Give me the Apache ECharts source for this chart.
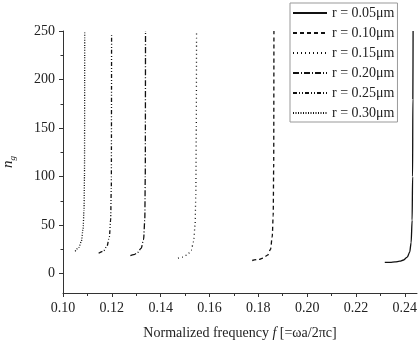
<!DOCTYPE html>
<html>
<head>
<meta charset="utf-8">
<script src="https://cdn.jsdelivr.net/npm/echarts@6/dist/echarts.min.js"></script>
<style>
  html, body { margin: 0; padding: 0; background: #fff; }
  #chart { width: 420px; height: 343px; }
</style>
</head>
<body>
<div id="chart"></div>
<script>
// 图例名称 (孔半径)
var radii = ['r = 0.05μm', 'r = 0.10μm', 'r = 0.15μm', 'r = 0.20μm', 'r = 0.25μm', 'r = 0.30μm'];

// 每条曲线: 归一化频率 f 与群折射率 ng
var f005 = [0.2318, 0.234, 0.236, 0.238, 0.2395, 0.241, 0.242, 0.2426, 0.243, 0.2432, 0.2433, 0.2434];
var ng005 = [11.5, 11.6, 12, 12.8, 14, 17, 22, 32, 55, 100, 180, 250];

var f010 = [0.1775, 0.18, 0.182, 0.1838, 0.185, 0.1857, 0.1861, 0.1863, 0.1864];
var ng010 = [13.5, 14.5, 16, 19, 25, 38, 60, 110, 250];

var f015 = [0.1471, 0.149, 0.151, 0.1525, 0.1535, 0.1541, 0.1544, 0.1546, 0.1547];
var ng015 = [16, 17, 19.5, 24, 33, 50, 80, 150, 248];

var f020 = [0.1276, 0.129, 0.1305, 0.132, 0.133, 0.1335, 0.1337, 0.1338];
var ng020 = [18.5, 19.5, 21.5, 26, 35, 55, 100, 250];

var f025 = [0.1146, 0.1165, 0.118, 0.119, 0.1195, 0.1198, 0.1199];
var ng025 = [21, 23, 28, 38, 55, 90, 248];

var f030 = [0.105, 0.1065, 0.1075, 0.1082, 0.1086, 0.1088, 0.1089];
var ng030 = [23, 27, 33, 45, 65, 100, 250];

// 坐标轴刻度
var xMin = 0.10, xMax = 0.24, xStep = 0.02, xEnd = 0.245;
var yMin = 0, yMax = 250, yStep = 50, yBottom = -20;

var curves = [[f005, ng005], [f010, ng010], [f015, ng015], [f020, ng020], [f025, ng025], [f030, ng030]];
var dashes = ['solid', [4, 3], [1, 3], [6, 2, 1, 2], [4, 2, 1, 2, 1, 2], [1, 1.5]];

var serif = 'Liberation Serif';
var chart = echarts.init(document.getElementById('chart'));

var series = curves.map(function (c, i) {
    return {
        name: radii[i],
        type: 'line',
        xAxisIndex: 0,
        yAxisIndex: 0,
        symbol: 'none',
        smooth: 0.3,
        smoothMonotone: 'x',
        animation: false,
        lineStyle: { color: '#111', width: 1.3, type: dashes[i] },
        itemStyle: { color: '#111' },
        data: c[0].map(function (f, k) { return [f, c[1][k]]; })
    };
});

var option = {
    backgroundColor: '#fff',
    animation: false,
    grid: [
        // 数据区域 (y 轴延伸到 -20)
        { left: 63, top: 31, right: 3, bottom: 50, outerBoundsMode: 'none' },
        // 刻度区域 (0..250, 0.10..0.24)
        { left: 63, top: 31, width: 341.8, height: 242.59, outerBoundsMode: 'none' }
    ],
    legend: {
        orient: 'vertical',
        left: 290,
        top: 3,
        padding: [3, 3, 2, 2],
        itemGap: 6,
        itemWidth: 34,
        itemHeight: 14,
        borderColor: '#999',
        borderWidth: 1,
        backgroundColor: '#fff',
        itemStyle: { opacity: 0 },
        textStyle: { fontFamily: serif, fontSize: 14, color: '#222' },
        data: radii
    },
    xAxis: [
        {
            gridIndex: 0, type: 'value', min: xMin, max: xEnd,
            axisLine: { onZero: false, lineStyle: { color: '#333', width: 1 } },
            axisTick: { show: false }, axisLabel: { show: false }, splitLine: { show: false },
            name: 'Normalized frequency {i|f} [=ωa/2πc]',
            nameLocation: 'middle',
            nameGap: 33,
            nameTextStyle: {
                fontFamily: serif, fontSize: 14, color: '#222',
                rich: { i: { fontFamily: serif, fontSize: 14, fontStyle: 'italic', color: '#222' } }
            }
        },
        {
            gridIndex: 1, type: 'value', min: xMin, max: xMax, interval: xStep, offset: 19.41,
            axisLine: { show: false, onZero: false },
            axisTick: { length: 4, lineStyle: { color: '#333' } },
            minorTick: { show: true, splitNumber: 2, length: 3, lineStyle: { color: '#333' } },
            splitLine: { show: false },
            axisLabel: {
                margin: 8, fontFamily: serif, fontSize: 14, color: '#222',
                formatter: function (v) { return v.toFixed(2); }
            }
        }
    ],
    yAxis: [
        {
            gridIndex: 0, type: 'value', min: yBottom, max: yMax,
            axisLine: { show: true, onZero: false, lineStyle: { color: '#333', width: 1 } },
            axisTick: { show: false }, axisLabel: { show: false }, splitLine: { show: false },
            name: '{i|n}{s|g}',
            nameLocation: 'middle',
            nameGap: 46,
            nameTextStyle: {
                rich: {
                    i: { fontFamily: serif, fontSize: 15, fontStyle: 'italic', color: '#222', lineHeight: 18 },
                    s: { fontFamily: serif, fontSize: 9, fontStyle: 'italic', color: '#222', lineHeight: 8, verticalAlign: 'bottom' }
                }
            }
        },
        {
            gridIndex: 1, type: 'value', min: yMin, max: yMax, interval: yStep,
            axisLine: { show: false, onZero: false },
            axisTick: { length: 4, lineStyle: { color: '#333' } },
            minorTick: { show: true, splitNumber: 2, length: 2.5, lineStyle: { color: '#333' } },
            splitLine: { show: false },
            axisLabel: { margin: 8, fontFamily: serif, fontSize: 14, color: '#222' }
        }
    ],
    series: series
};

chart.setOption(option);
</script>
</body>
</html>
